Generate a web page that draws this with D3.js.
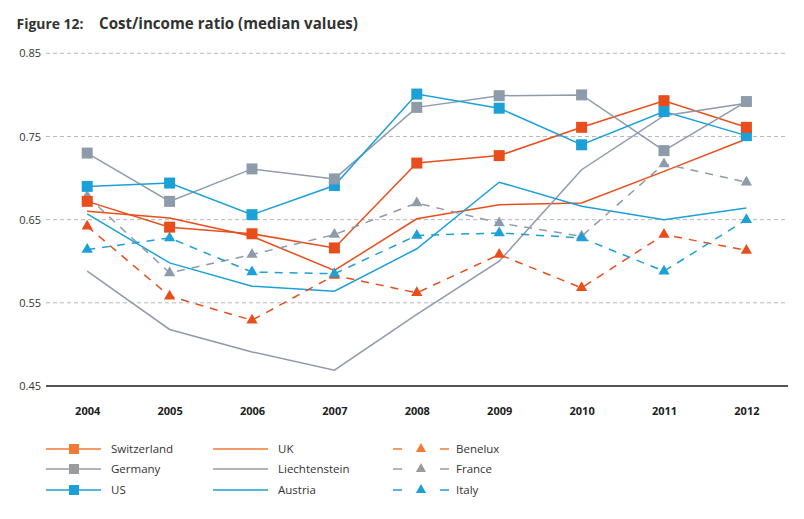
<!DOCTYPE html>
<html><head><meta charset="utf-8">
<script src="https://cdn.jsdelivr.net/npm/d3@7"></script>
<style>
body{margin:0;background:#fff;}
svg{display:block;font-family:"Open Sans",sans-serif;}
</style></head>
<body>
<svg id="chart" width="804" height="519"></svg>
<script>
const years = ["2004","2005","2006","2007","2008","2009","2010","2011","2012"];
const yTicks = [0.45,0.55,0.65,0.75,0.85];
const switzerland = [0.672,0.641,0.633,0.616,0.718,0.727,0.761,0.793,0.761];
const germany = [0.730,0.672,0.711,0.699,0.785,0.799,0.800,0.733,0.792];
const us = [0.690,0.694,0.656,0.691,0.801,0.784,0.740,0.780,0.751];
const uk = [0.660,0.652,0.630,0.589,0.651,0.668,0.670,0.708,0.747];
const liechtenstein = [0.588,0.518,0.491,0.469,0.536,0.600,0.710,0.775,0.790];
const austria = [0.657,0.598,0.570,0.564,0.615,0.695,0.666,0.650,0.664];
const benelux = [0.642,0.558,0.529,0.583,0.562,0.608,0.568,0.632,0.613];
const france = [0.678,0.586,0.608,0.632,0.670,0.646,0.630,0.717,0.695];
const italy = [0.614,0.628,0.587,0.585,0.631,0.634,0.628,0.588,0.650];

const ORANGE="#e84e1b", GRAY="#8e9bab", BLUE="#1ca0d8";
const L_ORANGE="#ef7b34", L_GRAY="#9a9b9d", L_BLUE="#1b9fd6";

const series = [
  {name:"Switzerland", values:switzerland, color:ORANGE, lcolor:L_ORANGE, marker:"square", dash:null},
  {name:"Germany", values:germany, color:GRAY, lcolor:L_GRAY, marker:"square", dash:null},
  {name:"US", values:us, color:BLUE, lcolor:L_BLUE, marker:"square", dash:null},
  {name:"UK", values:uk, color:ORANGE, lcolor:L_ORANGE, marker:null, dash:null},
  {name:"Liechtenstein", values:liechtenstein, color:GRAY, lcolor:L_GRAY, marker:null, dash:null},
  {name:"Austria", values:austria, color:BLUE, lcolor:L_BLUE, marker:null, dash:null},
  {name:"Benelux", values:benelux, color:ORANGE, lcolor:L_ORANGE, marker:"triangle", dash:"8,7"},
  {name:"France", values:france, color:GRAY, lcolor:L_GRAY, marker:"triangle", dash:"8,7"},
  {name:"Italy", values:italy, color:BLUE, lcolor:L_BLUE, marker:"triangle", dash:"8,7"}
];

const svg = d3.select("#chart");
const x = d3.scalePoint().domain(years).range([46, 787.6]).padding(0.5);
const y = d3.scaleLinear().domain([0.45, 0.85]).range([386, 53.3]);

// Title
const t1 = svg.append("text").attr("x",16.5).attr("y",29).attr("font-weight",700)
  .attr("font-size",17).attr("fill","#333").text("Figure 12:");
const t2 = svg.append("text").attr("x",99).attr("y",29).attr("font-weight",700)
  .attr("font-size",17).attr("fill","#333").text("Cost/income ratio (median values)");
function fit(sel, target){
  const w = sel.node().getComputedTextLength();
  const fs = 17*target/w;
  sel.attr("font-size", Math.min(fs, 19));
}
fit(t1, 67); fit(t2, 259);

// Grid
const grid = svg.append("g");
yTicks.filter(v=>v>0.45).forEach(v=>{
  grid.append("line").attr("x1",46).attr("x2",785).attr("y1",y(v)).attr("y2",y(v))
    .attr("stroke","#b3b9bf").attr("stroke-width",1).attr("stroke-dasharray","4,3");
});
// Y labels
const yAxis = d3.axisLeft(y).tickValues(yTicks).tickFormat(d3.format(".2f")).tickSize(0).tickPadding(0);
const ya = svg.append("g").attr("transform","translate(41,0)").call(yAxis);
ya.select(".domain").remove();
ya.selectAll("text").attr("font-size",11).attr("fill","#333").attr("font-family","Open Sans");

// X axis
const xAxis = d3.axisBottom(x).tickSize(0).tickPadding(0);
const xa = svg.append("g").attr("transform","translate(0,"+y(0.45)+")").call(xAxis);
xa.select(".domain").remove();
xa.selectAll("text").attr("font-size",11).attr("font-weight",700).attr("fill","#222")
  .attr("font-family","Open Sans").attr("dy",0).attr("y",29);
svg.append("line").attr("x1",46).attr("x2",788).attr("y1",y(0.45)).attr("y2",y(0.45))
  .attr("stroke","#1a1a1a").attr("stroke-width",1.5);

// Lines
const line = d3.line().x((d,i)=>x(years[i])).y(d=>y(d));
const linesG = svg.append("g");
series.forEach(s=>{
  linesG.append("path").datum(s.values).attr("d",line).attr("fill","none")
    .attr("stroke",s.color).attr("stroke-width",1.5)
    .attr("stroke-dasharray",s.dash);
});
// Triangles
const tri = d3.symbol().type(d3.symbolTriangle).size(55);
series.filter(s=>s.marker==="triangle").forEach(s=>{
  svg.append("g").selectAll("path").data(s.values).join("path")
    .attr("d",tri).attr("transform",(d,i)=>`translate(${x(years[i])},${y(d)})`)
    .attr("fill",s.color);
});
// Squares (US, Germany, Switzerland order)
const sq = 11;
["US","Germany","Switzerland"].forEach(n=>{
  const s = series.find(z=>z.name===n);
  svg.append("g").selectAll("rect").data(s.values).join("rect")
    .attr("x",(d,i)=>x(years[i])-sq/2).attr("y",d=>y(d)-sq/2)
    .attr("width",sq).attr("height",sq).attr("fill",s.color);
});

// Legend
const cols = [46, 213, 393];
const rows = [449, 469, 490];
series.forEach((s,i)=>{
  const c = Math.floor(i/3), r = i%3;
  const g = svg.append("g").attr("transform",`translate(${cols[c]},${rows[r]})`);
  let tx;
  if (s.marker==="triangle"){
    g.append("line").attr("x1",0).attr("x2",9).attr("y1",0).attr("y2",0).attr("stroke",s.lcolor).attr("stroke-width",1.5);
    g.append("line").attr("x1",47).attr("x2",56).attr("y1",0).attr("y2",0).attr("stroke",s.lcolor).attr("stroke-width",1.5);
    g.append("path").attr("d",d3.symbol().type(d3.symbolTriangle).size(45)).attr("transform","translate(28,0)").attr("fill",s.lcolor);
    tx = 63;
  } else {
    g.append("line").attr("x1",0).attr("x2",55).attr("y1",0).attr("y2",0).attr("stroke",s.lcolor).attr("stroke-width",1.5);
    if (s.marker==="square") g.append("rect").attr("x",23).attr("y",-5).attr("width",10).attr("height",10).attr("fill",s.lcolor);
    tx = 65;
  }
  g.append("text").attr("x",tx).attr("y",4).attr("font-size",11.5).attr("fill","#333").text(s.name);
});
</script>
</body></html>
